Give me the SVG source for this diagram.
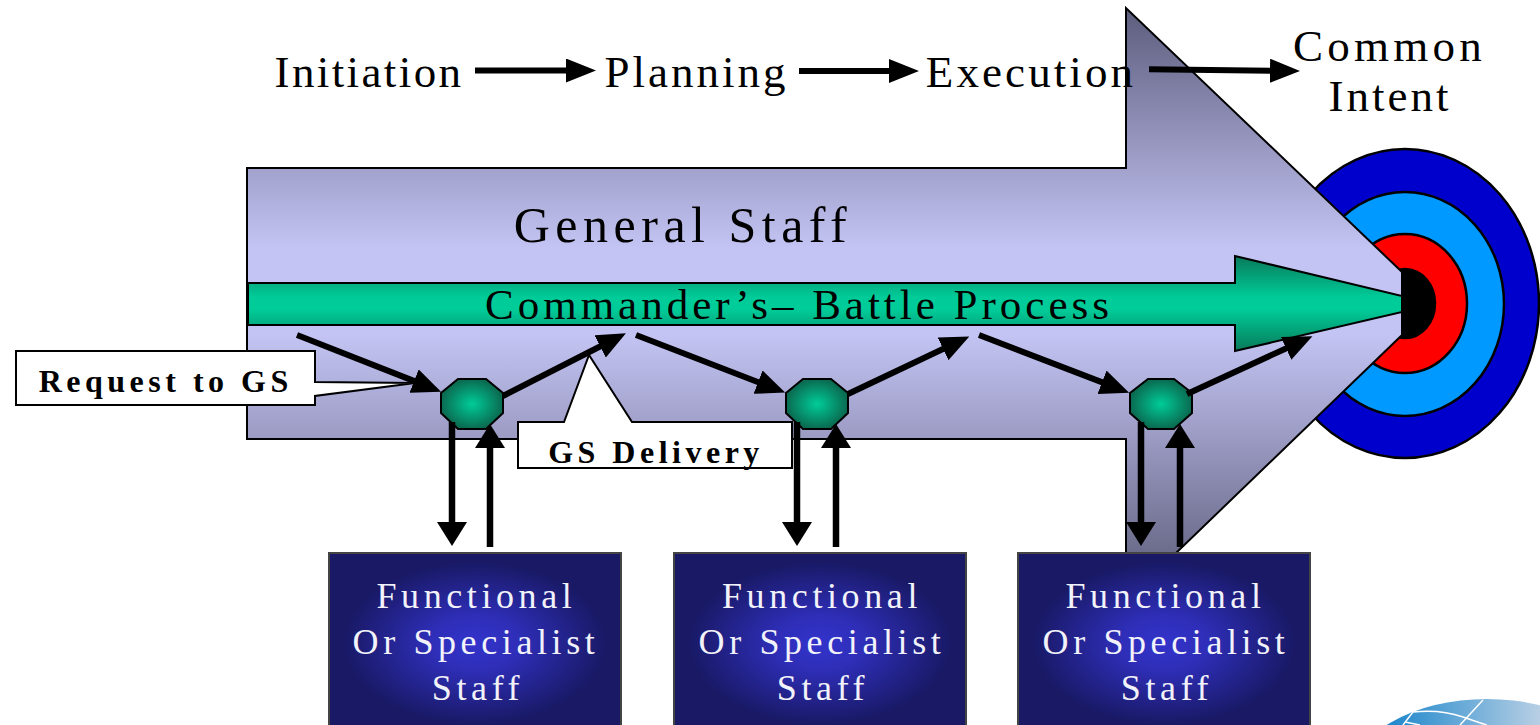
<svg xmlns="http://www.w3.org/2000/svg" width="1540" height="725" viewBox="0 0 1540 725">
<defs>
<linearGradient id="big" gradientUnits="userSpaceOnUse" x1="0" y1="8" x2="0" y2="553">
<stop offset="0" stop-color="#5c5c7c"/><stop offset=".44" stop-color="#c4c4f4"/><stop offset=".6" stop-color="#c4c4f4"/><stop offset="1" stop-color="#6c6c8c"/>
</linearGradient>
<linearGradient id="grn" gradientUnits="userSpaceOnUse" x1="0" y1="255" x2="0" y2="352">
<stop offset="0" stop-color="#087858"/><stop offset=".44" stop-color="#00cc99"/><stop offset=".56" stop-color="#00cc99"/><stop offset="1" stop-color="#087858"/>
</linearGradient>
<radialGradient id="oct"><stop offset="0" stop-color="#00cc99"/><stop offset="1" stop-color="#0a6a50"/></radialGradient>
<radialGradient id="blue" r=".5"><stop offset="0" stop-color="#3333cc"/><stop offset=".3" stop-color="#2e2eb8"/><stop offset=".9" stop-color="#191966"/></radialGradient>
<linearGradient id="globe" gradientUnits="userSpaceOnUse" x1="1390" y1="0" x2="1540" y2="0"><stop offset="0" stop-color="#1f88cc"/><stop offset="1" stop-color="#b8cfe4"/></linearGradient>
<marker id="hh" markerUnits="userSpaceOnUse" markerWidth="30" markerHeight="24" refX="1" refY="12" orient="auto" viewBox="0 0 30 24"><path d="M0 0L30 12L0 24z" fill="#000"/></marker>
<marker id="dd" markerUnits="userSpaceOnUse" markerWidth="29" markerHeight="25" refX="1" refY="12.5" orient="auto" viewBox="0 0 29 25"><path d="M0 0L29 12.5L0 25z" fill="#000"/></marker>
<marker id="vv" markerUnits="userSpaceOnUse" markerWidth="24" markerHeight="30" refX="1" refY="15" orient="auto" viewBox="0 0 24 30"><path d="M0 0L24 15L0 30z" fill="#000"/></marker>
</defs>
<style>
text{font-family:"Liberation Serif","Times New Roman",serif;text-anchor:middle}
.t{font-size:45px;fill:#000}
.w{font-size:36px;fill:#f2f2fa;letter-spacing:4.6px}
.b{font-size:32px;font-weight:bold;fill:#000;letter-spacing:4.5px}
.c{fill:none;stroke:#000;stroke-width:6}
.v{fill:none;stroke:#000;stroke-width:6.5}
.o{fill:url(#oct);stroke:#000;stroke-width:2}
.f{fill:url(#blue);stroke:#444;stroke-width:2}
.r{stroke:#000;stroke-width:2.5}
.n{fill:#fff;stroke:#000;stroke-width:2}
</style>

<g id="target">
<ellipse cx="1405" cy="303.500" rx="134" ry="154.500" fill="#0000cc" class="r"/>
<ellipse cx="1405" cy="304" rx="99" ry="112" fill="#0099ff" class="r"/>
<ellipse cx="1405" cy="303.500" rx="62" ry="69.500" fill="#ff0000" class="r"/>
<ellipse cx="1405" cy="303.500" rx="30" ry="34.500" fill="#000" class="r"/>
</g>
<g id="general-staff">
<path d="M247 168H1126V8L1402 272V335L1176 553H1126V439H247z" fill="url(#big)" stroke="#000" stroke-width="2"/>
<text class="t" x="683" y="242" style="font-size:50px;letter-spacing:5.5px">General Staff</text>
</g>
<g id="battle-process">
<path d="M248 283H1235V256L1402 296V312L1235 351V325H248z" fill="url(#grn)" stroke="#000" stroke-width="2"/>
<text x="799" y="319" style="font-size:43px;letter-spacing:4px;fill:#000">Commander’s– Battle Process</text>
</g>

<g id="phases">
<text class="t" x="369" y="87" style="letter-spacing:2.4px">Initiation</text>
<text class="t" x="696.500" y="87" style="letter-spacing:3px">Planning</text>
<text class="t" x="1031" y="87" style="letter-spacing:3.100px">Execution</text>
<text class="t" x="1389.500" y="61" style="letter-spacing:4.250px">Common</text>
<text class="t" x="1390" y="111" style="letter-spacing:3px">Intent</text>
</g>

<g id="request-callout">
<path class="n" d="M16 351H315V382L415 383L315 396V405H16z"/>
<text class="b" x="165.700" y="392">Request to GS</text>
</g>
<g id="delivery-callout">
<path class="n" d="M518 422H564L589 355L632 422H792V468H518z"/>
<text class="b" x="656" y="463">GS Delivery</text>
</g>

<g id="node-1"><path class="o" d="M458 379H486L503 393V413L486 429H458L441 413V393z"/></g>
<g id="node-2"><path class="o" d="M803 379H831L848 393V413L831 429H803L786 413V393z"/></g>
<g id="node-3"><path class="o" d="M1148 379H1174L1192 393V413L1174 429H1148L1130 413V393z"/></g>

<g id="connectors">
<line class="c" x1="297" y1="335" x2="415" y2="381.400" marker-end="url(#dd)"/>
<line class="c" x1="503" y1="396" x2="601" y2="346" marker-end="url(#dd)"/>
<line class="c" x1="636" y1="335" x2="759" y2="382.500" marker-end="url(#dd)"/>
<line class="c" x1="848" y1="394" x2="944" y2="348.500" marker-end="url(#dd)"/>
<line class="c" x1="979" y1="335" x2="1103" y2="382.600" marker-end="url(#dd)"/>
<line class="c" x1="1187" y1="394" x2="1287" y2="348" marker-end="url(#dd)"/>
<line class="c" x1="475" y1="70.500" x2="567" y2="70.500" marker-end="url(#hh)"/>
<line class="c" x1="799" y1="71" x2="890" y2="71" marker-end="url(#hh)"/>
<line class="c" x1="1149" y1="69.300" x2="1271" y2="70.700" marker-end="url(#hh)"/>
<line class="v" x1="452" y1="422" x2="452" y2="523" marker-end="url(#vv)"/>
<line class="v" x1="490" y1="547" x2="490" y2="447" marker-end="url(#vv)"/>
<line class="v" x1="797" y1="422" x2="797" y2="523" marker-end="url(#vv)"/>
<line class="v" x1="836" y1="547" x2="836" y2="447" marker-end="url(#vv)"/>
<line class="v" x1="1141" y1="422" x2="1141" y2="523" marker-end="url(#vv)"/>
<line class="v" x1="1180" y1="547" x2="1180" y2="447" marker-end="url(#vv)"/>
</g>

<g id="staff-1"><rect class="f" x="329" y="553" width="292" height="180"/>
<text class="w" x="476.400" y="607.500">Functional</text><text class="w" x="476" y="654">Or Specialist</text><text class="w" x="478" y="700">Staff</text></g>
<g id="staff-2"><rect class="f" x="674" y="553" width="292" height="180"/>
<text class="w" x="822" y="607.500">Functional</text><text class="w" x="822" y="654">Or Specialist</text><text class="w" x="823" y="700">Staff</text></g>
<g id="staff-3"><rect class="f" x="1018" y="553" width="292" height="180"/>
<text class="w" x="1165.500" y="607.500">Functional</text><text class="w" x="1166" y="654">Or Specialist</text><text class="w" x="1167" y="700">Staff</text></g>

<g id="globe">
<ellipse cx="1487" cy="779" rx="136" ry="80" fill="url(#globe)"/>
<path d="M1413 712Q1440 709 1463 717T1487 725M1483 700L1460 725M1413 712L1403 725M1405 722L1420 725" fill="none" stroke="#fff" stroke-width="1.500"/>
</g>
</svg>
